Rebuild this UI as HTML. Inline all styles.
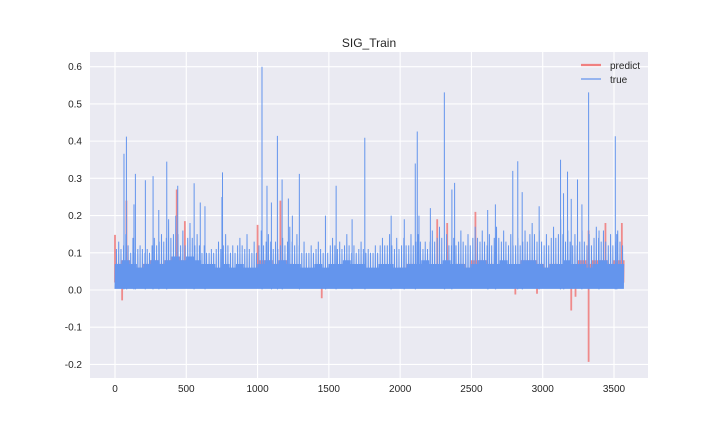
<!DOCTYPE html>
<html><head><meta charset="utf-8"><style>
body{margin:0;background:#fff;}
svg text{font-family:"Liberation Sans",Arial,sans-serif;}
</style></head><body>
<svg id="chart" width="720" height="432" viewBox="0 0 720 432" xmlns="http://www.w3.org/2000/svg">
<rect x="0" y="0" width="720" height="432" fill="#fff"/>
<rect x="90" y="52" width="558" height="326" fill="#EAEAF2"/>
<g id="grid"></g>
<g id="ticks"></g>
<g id="series" clip-path="url(#clip)"></g>
<defs><clipPath id="clip"><rect x="90" y="52" width="558" height="326"/></clipPath></defs>
<text x="369" y="47" font-size="12" text-anchor="middle" fill="#262626">SIG_Train</text>
<g>
<line x1="581" y1="65" x2="601" y2="65" stroke="#F08080" stroke-width="2.2"/>
<text x="610" y="69" font-size="10" fill="#262626">predict</text>
<line x1="581" y1="79" x2="601" y2="79" stroke="#6495ED" stroke-width="1.2"/>
<text x="610" y="83" font-size="10" fill="#262626">true</text>
</g>
</svg>
<script>
const xTicks=[0,500,1000,1500,2000,2500,3000,3500];
const yTicks=[-0.2,-0.1,0.0,0.1,0.2,0.3,0.4,0.5,0.6];
const nPoints=3570;
// band top of dense true signal per 50 samples
const trueBand=[0.07,0.08,0.07,0.06,0.07,0.08,0.07,0.08,0.09,0.08,0.09,0.08,0.07,0.07,0.06,0.07,0.06,0.07,0.06,0.06,0.07,0.08,0.07,0.08,0.07,0.07,0.06,0.06,0.07,0.06,0.07,0.07,0.08,0.07,0.07,0.06,0.06,0.07,0.07,0.06,0.06,0.07,0.07,0.08,0.07,0.07,0.08,0.07,0.07,0.06,0.07,0.08,0.07,0.07,0.08,0.07,0.07,0.08,0.08,0.07,0.06,0.07,0.07,0.08,0.07,0.07,0.06,0.07,0.08,0.07,0.07,0.07];
// medium local max per 50 samples
const trueMid=[0.13,0.15,0.14,0.12,0.11,0.14,0.15,0.19,0.2,0.16,0.18,0.15,0.12,0.11,0.13,0.15,0.12,0.14,0.15,0.13,0.16,0.15,0.13,0.14,0.17,0.15,0.13,0.12,0.13,0.11,0.14,0.13,0.15,0.12,0.13,0.11,0.12,0.14,0.15,0.14,0.14,0.15,0.15,0.13,0.16,0.17,0.15,0.14,0.16,0.15,0.17,0.16,0.15,0.17,0.16,0.15,0.14,0.16,0.18,0.16,0.15,0.17,0.19,0.16,0.15,0.16,0.15,0.17,0.16,0.15,0.16,0.15];
const trueMid2=[0.11,0.12,0.1,0.11,0.1,0.12,0.13,0.14,0.15,0.12,0.14,0.12,0.1,0.1,0.11,0.12,0.1,0.12,0.11,0.1,0.12,0.13,0.11,0.12,0.13,0.12,0.1,0.1,0.11,0.1,0.12,0.11,0.12,0.1,0.11,0.1,0.1,0.12,0.12,0.11,0.12,0.12,0.13,0.11,0.13,0.14,0.12,0.12,0.13,0.12,0.14,0.13,0.12,0.14,0.13,0.12,0.12,0.13,0.15,0.13,0.12,0.14,0.15,0.13,0.12,0.13,0.12,0.14,0.13,0.12,0.13,0.12];
const trueSpikeIdx=[63,80,133,143,213,267,307,363,440,555,598,631,750,754,1031,1066,1097,1139,1172,1216,1244,1293,1476,1551,1663,1752,1937,2029,2106,2120,2132,2212,2310,2363,2382,2614,2668,2790,2825,2856,2975,3125,3146,3174,3200,3244,3275,3322,3395,3509,3519];
const trueSpikeVal=[0.366,0.412,0.23,0.312,0.295,0.306,0.215,0.345,0.28,0.287,0.235,0.225,0.25,0.316,0.6,0.28,0.235,0.414,0.297,0.246,0.2,0.312,0.2,0.28,0.19,0.409,0.2,0.19,0.34,0.426,0.2,0.22,0.531,0.27,0.288,0.215,0.23,0.32,0.346,0.263,0.225,0.35,0.26,0.318,0.245,0.297,0.23,0.531,0.16,0.413,0.15];
const predSpikeIdx=[0,50,80,433,490,1000,1160,1450,2260,2330,2528,2808,2960,3200,3230,3322,3322,3440,3555];
const predSpikeVal=[0.148,-0.028,0.24,0.27,0.185,0.175,0.24,-0.022,0.19,0.18,0.21,-0.012,-0.01,-0.055,-0.018,-0.193,0.16,0.18,0.18];
const predBand=[0.07,0.08,0.06,0.06,0.07,0.08,0.07,0.08,0.09,0.08,0.08,0.07,0.06,0.06,0.05,0.06,0.05,0.06,0.05,0.05,0.08,0.08,0.07,0.08,0.07,0.06,0.05,0.05,0.06,0.05,0.06,0.06,0.07,0.06,0.06,0.05,0.05,0.06,0.06,0.05,0.06,0.07,0.06,0.07,0.06,0.06,0.07,0.06,0.07,0.06,0.08,0.08,0.07,0.06,0.07,0.06,0.06,0.08,0.08,0.07,0.06,0.07,0.06,0.07,0.06,0.08,0.07,0.08,0.08,0.07,0.08,0.08];

const X=i=>115+i*(614-115)/3500;
const Y=v=>290-v*(290-66.7)/0.6;
const NS="http://www.w3.org/2000/svg";
function mk(tag,attrs,parent){const e=document.createElementNS(NS,tag);for(const k in attrs)e.setAttribute(k,attrs[k]);parent.appendChild(e);return e;}
const grid=document.getElementById('grid'),ticks=document.getElementById('ticks'),series=document.getElementById('series');
xTicks.forEach(t=>{
  const l=mk('line',{x1:X(t),x2:X(t),y1:52,y2:378,stroke:'#fff','stroke-width':1.1},grid);
  
  
  const tx=mk('text',{x:X(t),y:392,'font-size':10,'text-anchor':'middle',fill:'#262626'},ticks);
  tx.textContent=t;
  
  
});
yTicks.forEach(t=>{
  const l=mk('line',{x1:90,x2:648,y1:Y(t),y2:Y(t),stroke:'#fff','stroke-width':1.1},grid);
  
  
  const tx=mk('text',{x:82,y:Y(t)+3.5,'font-size':10,'text-anchor':'end',fill:'#262626'},ticks);
  tx.textContent=t.toFixed(1);
  
  
});
function buildPath(band,mid,mid2,spI,spV,lo){
  let pts=[];
  for(let b=0;b<band.length;b++){
    const i0=b*50;
    for(let k=0;k<50;k+=4){
      const i=i0+k; if(i>=nPoints)break;
      let top=band[b];
      if(mid&&k===24)top=mid[b];
      if(mid2&&(k===8||k===40))top=mid2[b];
      pts.push([i,lo],[i+2,top]);
    }
  }
  spI.forEach((si,j)=>{pts.push([si,lo],[si,spV[j]],[si+0.5,lo]);});
  pts.sort((a,b)=>a[0]-b[0]);
  return 'M'+pts.map(p=>X(p[0]).toFixed(2)+','+Y(p[1]).toFixed(2)).join('L');
}
const pred=mk('path',{d:buildPath(predBand,null,null,predSpikeIdx,predSpikeVal,0.02),fill:'none',stroke:'#F08080','stroke-width':1.8,'stroke-opacity':0.9},series);


const tr=mk('path',{d:buildPath(trueBand,trueMid,trueMid2,trueSpikeIdx,trueSpikeVal,0.003),fill:'none',stroke:'#6495ED','stroke-width':1},series);


</script>
</body></html>
